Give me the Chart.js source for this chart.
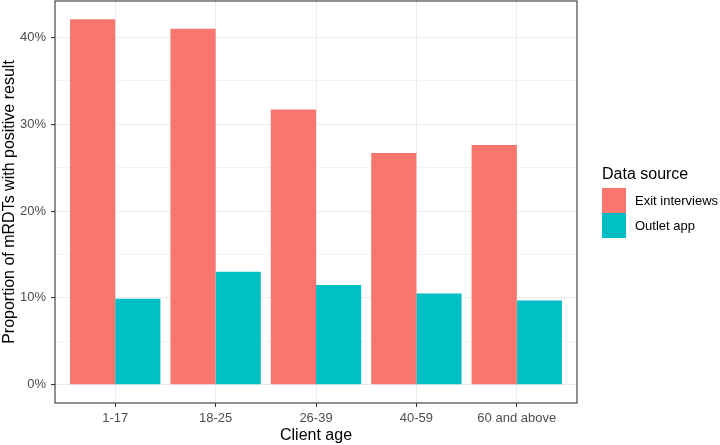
<!DOCTYPE html>
<html>
<head>
<meta charset="utf-8">
<script src="https://cdn.jsdelivr.net/npm/chart.js@4.4.0/dist/chart.umd.min.js"></script>
<style>
  html, body { margin: 0; padding: 0; background: #fff; }
  #wrap { width: 720px; height: 445px; position: relative; }
</style>
</head>
<body>
<div id="wrap"><canvas id="grafico" width="720" height="445"></canvas></div>
<script>
// Dados
const faixasEtarias = ["1-17", "18-25", "26-39", "40-59", "60 and above"];
const entrevistasSaida = [42.1, 41.0, 31.7, 26.7, 27.6];
const appOutlet = [9.9, 13.0, 11.5, 10.5, 9.7];
const fontes = ["Exit interviews", "Outlet app"];
const cores = ["#F8766D", "#00BFC4"];

const FONTE = 'Arial, "Liberation Sans", sans-serif';

function paraPontos(valores) {
  return valores.map((v, i) => ({ x: i, y: v }));
}

// Moldura do painel e legenda no estilo ggplot
const painelLegenda = {
  id: "painelLegenda",
  afterDraw(chart) {
    const { ctx, chartArea: a } = chart;
    ctx.save();
    ctx.strokeStyle = "#333333";
    ctx.lineWidth = 1.1;
    ctx.strokeRect(a.left, a.top, a.right - a.left, a.bottom - a.top);

    const x0 = a.right + 25;
    ctx.fillStyle = "#000";
    ctx.font = "16px " + FONTE;
    ctx.textBaseline = "middle";
    ctx.textAlign = "left";
    ctx.fillText("Data source", x0, 175);
    chart.data.datasets.forEach((ds, i) => {
      const y = 188 + i * 25;
      ctx.fillStyle = ds.backgroundColor;
      ctx.fillRect(x0, y, 24, 25);
      ctx.fillStyle = "#000";
      ctx.font = "13px " + FONTE;
      ctx.fillText(ds.label, x0 + 33, y + 13);
    });
    ctx.restore();
  }
};

const ctx = document.getElementById("grafico").getContext("2d");
new Chart(ctx, {
  type: "bar",
  data: {
    datasets: [
      { label: fontes[0], data: paraPontos(entrevistasSaida), backgroundColor: cores[0] },
      { label: fontes[1], data: paraPontos(appOutlet), backgroundColor: cores[1] }
    ]
  },
  options: {
    responsive: false,
    animation: false,
    layout: { padding: { left: 0, top: 1, right: 143, bottom: 0 } },
    datasets: { bar: { categoryPercentage: 0.9, barPercentage: 1.0, borderWidth: 0 } },
    plugins: { legend: { display: false }, tooltip: { enabled: false } },
    scales: {
      x: {
        type: "linear",
        min: -0.6,
        max: 4.6,
        offset: false,
        afterFit: s => { s.height = 42; s.paddingLeft = 0; s.paddingRight = 0; },
        border: { display: false },
        grid: { offset: false, color: "#EBEBEB", lineWidth: 1, tickLength: 4, tickColor: "#333333" },
        ticks: {
          stepSize: 1,
          includeBounds: false,
          padding: 4,
          color: "#4D4D4D",
          font: { family: FONTE, size: 13 },
          autoSkip: false,
          maxRotation: 0,
          callback: v => faixasEtarias[v]
        },
        title: { display: true, text: "Client age", color: "#000", font: { family: FONTE, size: 16 }, padding: 0 }
      },
      y: {
        min: -2.105,
        max: 44.2,
        afterFit: s => { s.width = 55; s.paddingTop = 0; s.paddingBottom = 0; },
        border: { display: false },
        grid: {
          color: "#EBEBEB",
          lineWidth: c => (c.tick && c.tick.value % 10 === 0 ? 1.1 : 0.6),
          tickLength: 4,
          tickColor: c => (c.tick && c.tick.value % 10 === 0 ? "#333333" : "rgba(0,0,0,0)")
        },
        ticks: {
          stepSize: 5,
          includeBounds: false,
          padding: 5,
          color: "#4D4D4D",
          font: { family: FONTE, size: 13 },
          callback: v => (v % 10 === 0 ? v + "%" : "")
        },
        title: { display: true, text: "Proportion of mRDTs with positive result", color: "#000", font: { family: FONTE, size: 16 }, padding: 0 }
      }
    }
  },
  plugins: [painelLegenda]
});
</script>
</body>
</html>
